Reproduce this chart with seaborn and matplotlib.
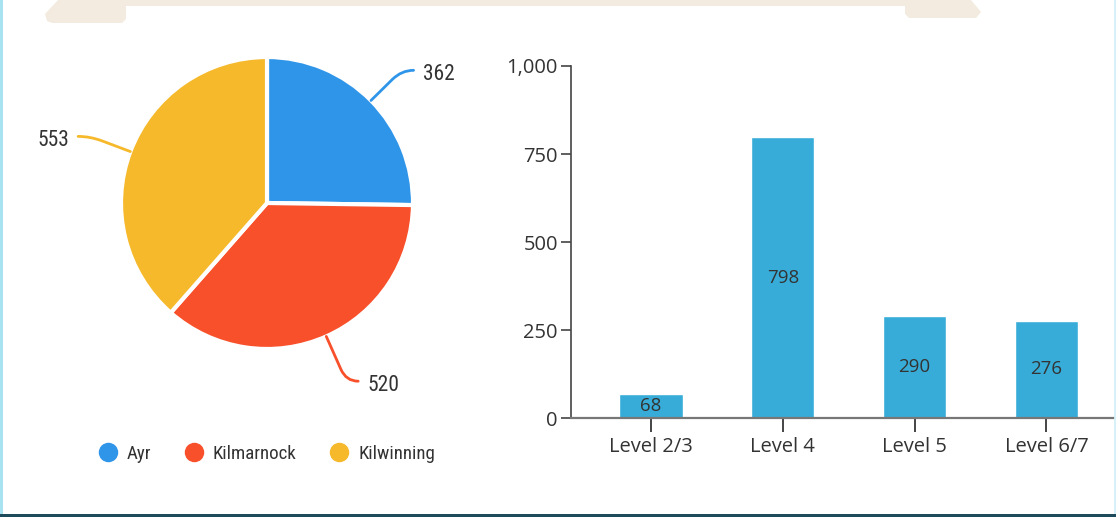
import numpy as np
import pandas as pd
import matplotlib
matplotlib.use("Agg")
import matplotlib.pyplot as plt
import seaborn as sns
from matplotlib import font_manager
from matplotlib.patches import Rectangle, Polygon, PathPatch
from matplotlib.path import Path
from matplotlib.lines import Line2D

# ---------------- data ----------------
campuses = ["Ayr", "Kilmarnock", "Kilwinning"]
campus_values = [362, 520, 553]
campus_colors = ["#2F95E9", "#F8502B", "#F6B92C"]

levels = ["Level 2/3", "Level 4", "Level 5", "Level 6/7"]
level_values = [68, 798, 290, 276]
bar_color = "#37ACD8"
y_ticks = [0, 250, 500, 750, 1000]

# ---------------- fonts ----------------
sns.set_style("white")
names = {f.name for f in font_manager.fontManager.ttflist}
cond = "Roboto Condensed" if "Roboto Condensed" in names else None
pie_font = cond if cond else "Roboto"
pie_size = 15.5 if cond else 13.5
leg_size = 13.6 if cond else 11.5
bar_font = "Open Sans"
plt.rcParams["font.family"] = [bar_font, "DejaVu Sans"]
text_color = "#333333"

W, H = 1116, 517
fig = plt.figure(figsize=(W / 100, H / 100), dpi=100)
fig.patch.set_facecolor("white")

# ---------------- decoration ----------------
bg = fig.add_axes([0, 0, 1, 1], zorder=-5)
bg.set_xlim(0, W)
bg.set_ylim(H, 0)
bg.axis("off")
bg.add_patch(Rectangle((0, 0), 2.5, H, color="#A9E2F1", lw=0))
bg.add_patch(Rectangle((W - 2, 0), 2, H, color="#D6F1F7", lw=0))
bg.add_patch(Rectangle((0, H - 3.5), W, 3.5, color="#1E4B5B", lw=0))
band = [(58, 0), (45, 14), (47, 21), (52, 23), (122, 23), (126, 19), (126, 6),
        (905, 6), (905, 14), (909, 18), (976, 18), (981, 12), (971, 0)]
bg.add_patch(Polygon(band, closed=True, color="#F3EBDF", lw=0))

# ---------------- pie ----------------
axp = fig.add_axes([0, 0, 1, 1])
cx, cy = 267, H - 203
R = 146
wedges, _ = axp.pie(campus_values, colors=campus_colors, startangle=90,
                    counterclock=False, center=(cx, cy), radius=R,
                    wedgeprops=dict(edgecolor="white", linewidth=3))
axp.set_xlim(0, W)
axp.set_ylim(0, H)
axp.set_aspect("equal")
axp.axis("off")

for w, val, col in zip(wedges, campus_values, campus_colors):
    ang = np.deg2rad((w.theta1 + w.theta2) / 2)
    c, s = np.cos(ang), np.sin(ang)
    side = 1 if c >= 0 else -1
    re = 189 if s >= -0.5 else 195
    p0 = (cx + R * c, cy + R * s)
    p1 = (cx + (re - 13) * c, cy + (re - 13) * s)
    pe = (cx + re * c, cy + re * s)
    p2 = (pe[0] + side * 12, pe[1])
    path = Path([p0, p1, pe, p2], [Path.MOVETO, Path.LINETO, Path.CURVE3, Path.CURVE3])
    axp.add_patch(PathPatch(path, fill=False, edgecolor=col, lw=2.0,
                            capstyle="round", joinstyle="round"))
    axp.text(p2[0] + side * 9, p2[1] - 4, f"{val}", ha="left" if side > 0 else "right",
             va="center", fontsize=pie_size, color=text_color,
             family=[pie_font, "DejaVu Sans"])

handles = [Line2D([], [], marker="o", ls="", markersize=13, markerfacecolor=c,
                  markeredgecolor=c) for c in campus_colors]
fs_px = leg_size / 72 * 100
axp.legend(handles, campuses, loc="center left",
           bbox_to_anchor=((108 - 0.5 * fs_px) / W, 1 - 454 / H),
           bbox_transform=fig.transFigure, ncol=3, frameon=False,
           handlelength=1.0, handletextpad=(19 - 0.5 * fs_px) / fs_px,
           columnspacing=1.75, borderpad=0, borderaxespad=0,
           prop=dict(family=[pie_font, "DejaVu Sans"], size=leg_size),
           labelcolor=text_color)

# ---------------- bars ----------------
axb = fig.add_axes([571 / W, 1 - 418 / H, 542 / W, 352 / H])
df = pd.DataFrame({"level": levels, "value": level_values})
sns.barplot(data=df, x="level", y="value", color=bar_color, saturation=1,
            width=0.48, ax=axb)
axb.set_ylim(0, 1000)
axb.set_xlim(-0.607, 3.505)
axb.set_yticks(y_ticks)
axb.set_yticklabels([f"{v:,}" for v in y_ticks])
axb.set_xlabel("")
axb.set_ylabel("")
for sp in ["top", "right"]:
    axb.spines[sp].set_visible(False)
axb.spines["left"].set_color("#444444")
axb.spines["left"].set_linewidth(1.2)
axb.spines["bottom"].set_color("#777777")
axb.spines["bottom"].set_linewidth(1.6)
axb.tick_params(axis="y", direction="out", length=7.5, width=1.2, color="#444444",
                pad=2, labelsize=14.5, labelcolor=text_color, left=True)
axb.tick_params(axis="x", direction="out", length=10, width=1.4, color="#444444",
                pad=4, labelsize=14.5, labelcolor=text_color, bottom=True)
axb.patch.set_alpha(0)
for cont in axb.containers:
    axb.bar_label(cont, labels=[f"{v}" for v in level_values], label_type="center",
                  fontsize=13.5, color=text_color)

fig.savefig("out.png", dpi=100, facecolor="white")
